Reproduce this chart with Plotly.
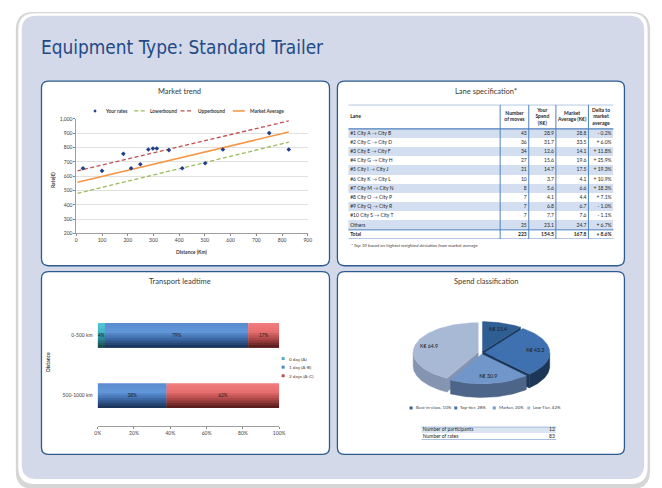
import numpy as np
import plotly.graph_objects as go

W, H = 662, 488

# ---------------- data ----------------
rate_distance_km = [26, 100, 183, 213, 249, 280, 298, 313, 360, 412, 501, 570, 750, 826]
rate_eur = [655, 637, 756, 655, 683, 786, 793, 793, 782, 655, 690, 786, 901, 786]
trend_distance_km = [5, 826]
market_average_eur = [558, 908]
upperbound_eur = [637, 986]
lowerbound_eur = [480, 837]

lane_names = ["#1 City A → City B", "#2 City C → City D", "#3 City E → City F", "#4 City G → City H",
              "#5 City I → City J", "#6 City K → City L", "#7 City M → City N", "#8 City O → City P",
              "#9 City Q → City R", "#10 City S → City T", "Others", "Total"]
lane_moves = [43, 36, 34, 27, 21, 10, 8, 7, 7, 7, 25, 223]
lane_your_spend = [28.9, 31.7, 12.6, 15.6, 14.7, 3.7, 5.6, 4.1, 6.8, 7.7, 23.1, 154.5]
lane_market_average = [28.8, 33.5, 14.1, 19.6, 17.5, 4.1, 6.6, 4.4, 6.7, 7.6, 24.7, 167.8]
lane_delta_pct = [-0.2, 6.0, 11.8, 25.9, 19.3, 10.9, 18.3, 7.1, -1.0, -1.1, 6.7, 8.6]
table_headers = ["Lane", "Number<br>of moves", "Your<br>Spend<br>(K€)", "Market<br>Average (K€)",
                 "Delta to<br>market<br>average"]

distance_bands = ["0-500 km", "500-1000 km"]
leadtime_names = ["0 day (A)", "1 day (A-B)", "2 days (A-C)"]
share_0_day = [0.04, 0.00]
share_1_day = [0.79, 0.38]
share_2_days = [0.17, 0.62]

spend_classes = ["Best-in-class", "Top-tier", "Market", "Low-Tier"]
spend_keur = [15.4, 43.3, 30.9, 64.9]

summary_labels = ["Number of participants", "Number of rates"]
summary_values = [12, 83]

# ---------------- helpers ----------------
FONT = "Lato, 'Open Sans', sans-serif"
TXT = "#3a3a3a"


def X(px):
    return px / W


def Y(py):
    return 1 - py / H


def rrect_path(x0, y0, x1, y1, r):
    a, b, c, d = X(x0 + r), Y(y0), X(x1 - r), X(x1)
    e, f, g, h = Y(y0 + r), Y(y1 - r), Y(y1), X(x0)
    return (f"M{a},{b} L{c},{b} Q{d},{b} {d},{e} L{d},{f} Q{d},{g} {c},{g} "
            f"L{a},{g} Q{h},{g} {h},{f} L{h},{e} Q{h},{b} {a},{b} Z")


shapes = []
annotations = []


def ann(text, x, y, size=5, bold=False, italic=False, color=TXT, xanchor="center", angle=0, family=FONT):
    if bold:
        text = f"<b>{text}</b>"
    if italic:
        text = f"<i>{text}</i>"
    annotations.append(dict(text=text, x=X(x), y=Y(y), xref="paper", yref="paper", showarrow=False,
                            xanchor=xanchor, yanchor="middle", textangle=angle,
                            font=dict(size=size, color=color, family=family)))


# background panels
shapes.append(dict(type="path", path=rrect_path(13, 9, 656, 492, 18), fillcolor="#d6d6d6",
                   line_width=0, layer="below", xref="paper", yref="paper"))
shapes.append(dict(type="path", path=rrect_path(15.5, 10.5, 653.5, 487, 17), fillcolor="#ffffff",
                   line_width=0, layer="below", xref="paper", yref="paper"))
shapes.append(dict(type="path", path=rrect_path(19, 13, 650, 482, 15), fillcolor="#d3d9e8",
                   line_width=0, layer="below", xref="paper", yref="paper"))
for (x0, y0, x1, y1) in [(39, 79, 331, 266), (339, 79, 630, 266), (39, 272, 331, 457), (339, 272, 630, 457)]:
    shapes.append(dict(type="path", path=rrect_path(x0, y0, x1, y1, 7), fillcolor="#ffffff",
                       line=dict(color="#2d5b8f", width=1.3), layer="below", xref="paper", yref="paper"))

ann("Equipment Type: Standard Trailer", 36, 45, size=18.9, color="#1f4a87", xanchor="left",
    family="'Liberation Sans Narrow', 'DejaVu Sans Condensed', sans-serif")

fig = go.Figure()

# ---------------- 1. Market trend (scatter) ----------------
fig.add_trace(go.Scatter(x=trend_distance_km, y=lowerbound_eur, mode="lines", name="Lowerbound",
                         line=dict(color="#9bbb59", width=1.3, dash="4px,2.5px"), xaxis="x", yaxis="y",
                         hoverinfo="skip"))
fig.add_trace(go.Scatter(x=trend_distance_km, y=upperbound_eur, mode="lines", name="Upperbound",
                         line=dict(color="#c0504d", width=1.3, dash="4px,2.5px"), xaxis="x", yaxis="y",
                         hoverinfo="skip"))
fig.add_trace(go.Scatter(x=trend_distance_km, y=market_average_eur, mode="lines", name="Market Average",
                         line=dict(color="#f79646", width=1.6), xaxis="x", yaxis="y", hoverinfo="skip"))
fig.add_trace(go.Scatter(x=rate_distance_km, y=rate_eur, mode="markers", name="Your rates",
                         marker=dict(symbol="diamond", size=3.6, color="#1f3f8a"), xaxis="x", yaxis="y"))

ann("Market trend", 179, 90, size=7.5)
ann("Rate(€)", 50, 179, size=5, bold=True, angle=-90)
ann("Distance (Km)", 192, 252, size=5, bold=True)
# legend (drawn)
shapes.append(dict(type="path", xref="paper", yref="paper",
                   path=f"M{X(93.3)},{Y(107.6)} L{X(95)},{Y(109.3)} L{X(93.3)},{Y(111)} L{X(91.6)},{Y(109.3)} Z",
                   fillcolor="#1f3f8a", line_width=0))
ann("Your rates", 101, 109.3, size=4.8, bold=True, xanchor="left")
shapes.append(dict(type="line", xref="paper", yref="paper", x0=X(133), x1=X(144), y0=Y(109.3), y1=Y(109.3),
                   line=dict(color="#9bbb59", width=1.3, dash="4px,2.5px")))
ann("Lowerbound", 147, 109.3, size=4.8, bold=True, xanchor="left")
shapes.append(dict(type="line", xref="paper", yref="paper", x0=X(180), x1=X(192), y0=Y(109.3), y1=Y(109.3),
                   line=dict(color="#c0504d", width=1.3, dash="4px,2.5px")))
ann("Upperbound", 196, 109.3, size=4.8, bold=True, xanchor="left")
shapes.append(dict(type="line", xref="paper", yref="paper", x0=X(233), x1=X(245), y0=Y(109.3), y1=Y(109.3),
                   line=dict(color="#f79646", width=1.6)))
ann("Market Average", 248, 109.3, size=4.8, bold=True, xanchor="left")

# ---------------- 2. Lane specification (table on its own axes) ----------------
col_w = [154, 29, 27.5, 33, 25.5]
edges = np.cumsum([0] + col_w)
n_rows = len(lane_names)
header_rows = 2.62
stripe = [[1 if i % 2 == 0 else 0] for i in range(n_rows)]
fig.add_trace(go.Heatmap(z=stripe, x=[edges[0], edges[-1]], y=[i - 0.5 for i in range(n_rows + 1)],
                         colorscale=[[0, "#ffffff"], [1, "#d3dff0"]], zmin=0, zmax=1, showscale=False,
                         hoverinfo="skip", xaxis="x2", yaxis="y2"))


def bold_total(values):
    return [f"<b>{v}</b>" if name == "Total" else str(v) for v, name in zip(values, lane_names)]


row_y = list(range(n_rows))
fig.add_trace(go.Scatter(x=[edges[0] + 2] * n_rows, y=row_y, mode="text", text=bold_total(lane_names),
                         textposition="middle right", textfont=dict(size=5, color="#262626", family=FONT),
                         xaxis="x2", yaxis="y2", hoverinfo="skip", showlegend=False))
num_cols = [
    [str(v) for v in lane_moves],
    [f"{v:.1f}" for v in lane_your_spend],
    [f"{v:.1f}" for v in lane_market_average],
    [f"{'+' if v >= 0 else '-'} {abs(v):.1f}%" for v in lane_delta_pct],
]
for j, col in enumerate(num_cols):
    fig.add_trace(go.Scatter(x=[edges[j + 2] - 2] * n_rows, y=row_y, mode="text", text=bold_total(col),
                             textposition="middle left", textfont=dict(size=5, color="#262626", family=FONT),
                             xaxis="x2", yaxis="y2", hoverinfo="skip", showlegend=False))
hdr_y = -0.5 - header_rows / 2
hdr_x = [edges[0] + 2] + [(edges[j] + edges[j + 1]) / 2 for j in range(1, len(col_w))]
fig.add_trace(go.Scatter(x=hdr_x, y=[hdr_y] * len(table_headers), mode="text",
                         text=[f"<b>{h}</b>" for h in table_headers],
                         textposition=["middle right"] + ["middle center"] * (len(table_headers) - 1),
                         textfont=dict(size=5, color="#262626", family=FONT),
                         xaxis="x2", yaxis="y2", hoverinfo="skip", showlegend=False))
top_y = -0.5 - header_rows
for xe in edges[1:-1]:
    shapes.append(dict(type="line", xref="x2", yref="y2", x0=xe, x1=xe, y0=top_y, y1=n_rows - 0.5,
                       line=dict(color="#4f81bd", width=1)))
for yy, lw in [(top_y, 1), (-0.5, 1.3), (n_rows - 1.5, 1), (n_rows - 0.5, 1)]:
    shapes.append(dict(type="line", xref="x2", yref="y2", x0=edges[0], x1=edges[-1], y0=yy, y1=yy,
                       line=dict(color="#4f81bd", width=lw)))
ann("Lane specification*", 490, 90, size=7.5)
ann("* Top 10 based on highest weighted deviation from market average", 351, 245, size=4.6, italic=True,
    xanchor="left")

# ---------------- 3. Transport leadtime (stacked bars with gradient bands) ----------------
bar_colors = {
    "0 day (A)": [(0, "#52c6d6"), (0.35, "#46b6c7"), (0.65, "#2d8492"), (1.0, "#173f47")],
    "1 day (A-B)": [(0, "#5a8bce"), (0.35, "#6197d9"), (0.65, "#3d68a6"), (1.0, "#172e50")],
    "2 days (A-C)": [(0, "#f27e7e"), (0.35, "#e76e6e"), (0.65, "#ad4747"), (1.0, "#4d1616")],
}
legend_color = {"0 day (A)": "#4bacc6", "1 day (A-B)": "#4f81bd", "2 days (A-C)": "#c0504d"}


def hex2rgb(h):
    h = h.lstrip("#")
    return [int(h[i:i + 2], 16) for i in (0, 2, 4)]


def grad(stops, t):
    for (t0, c0), (t1, c1) in zip(stops[:-1], stops[1:]):
        if t <= t1:
            f = (t - t0) / (t1 - t0)
            a, b = hex2rgb(c0), hex2rgb(c1)
            return "rgb({},{},{})".format(*[round(a[k] + (b[k] - a[k]) * f) for k in range(3)])
    return stops[-1][1]


series = [("0 day (A)", share_0_day), ("1 day (A-B)", share_1_day), ("2 days (A-C)", share_2_days)]
bar_w = 25 / 61
n_bands = 10
band_w = bar_w / n_bands
base = [0.0] * len(distance_bands)
label_x, label_y, label_t = [], [], []
for name, vals in series:
    for b in range(n_bands):
        fig.add_trace(go.Bar(orientation="h", y=distance_bands, x=vals, base=list(base),
                             width=band_w * (2 if b < n_bands - 1 else 1), offset=-bar_w / 2 + b * band_w,
                             marker=dict(color=grad(bar_colors[name], (b + 0.5) / n_bands), line_width=0),
                             name=name, showlegend=False, hoverinfo="skip", xaxis="x3", yaxis="y3"))
    for i, v in enumerate(vals):
        if v > 0:
            label_x.append(base[i] + v / 2)
            label_y.append(distance_bands[i])
            label_t.append(f"{v:.0%}")
    base = [base[i] + vals[i] for i in range(len(vals))]
fig.add_trace(go.Scatter(x=label_x, y=label_y, mode="text", text=label_t,
                         textfont=dict(size=4.8, color="#1a1a1a", family=FONT),
                         xaxis="x3", yaxis="y3", hoverinfo="skip", showlegend=False))
ann("Transport leadtime", 179, 282, size=7.5)
ann("Distance", 45, 363, size=5, bold=True, angle=-90)
for k, name in enumerate(leadtime_names):
    yy = 360 + k * 8.7
    shapes.append(dict(type="rect", xref="paper", yref="paper", x0=X(282.5), x1=X(285.5), y0=Y(yy + 1.5),
                       y1=Y(yy - 1.5), fillcolor=legend_color[name], line_width=0))
    ann(name, 287.5, yy, size=4.6, xanchor="left")

# ---------------- 4. Spend classification (3D-style pie) ----------------
cx, cy = 85.0, 56.0
rx, ry, depth, explode = 66.0, 30.0, 14.0, 0.05
top_cols = ["#2f5e93", "#3f70b0", "#7196c9", "#a8b9d6"]
wall_cols = ["#1c3a5e", "#1b3656", "#4d6588", "#8494b1"]
total = sum(spend_keur)
cum = np.cumsum([0] + [v / total * 360 for v in spend_keur])
slices = []
for k in range(len(spend_keur)):
    a0, a1 = cum[k], cum[k + 1]
    m = np.radians((a0 + a1) / 2)
    slices.append((np.cos(m), k, a0, a1, m))
slices.sort(key=lambda s: -s[0])


def arc(a0, a1, sx, sy, dz=0.0, n=60):
    t = np.radians(np.linspace(a0, a1, n))
    return list(cx + sx + rx * np.sin(t)), list(cy + sy + ry * np.cos(t) - dz)


def poly(xs, ys, color):
    fig.add_trace(go.Scatter(x=xs + [xs[0]], y=ys + [ys[0]], mode="lines", fill="toself", fillcolor=color,
                             line=dict(color=color, width=0.4), xaxis="x4", yaxis="y4",
                             hoverinfo="skip", showlegend=False))


lab_x, lab_y, lab_t = [], [], []
for _, k, a0, a1, m in slices:
    sx, sy = explode * rx * np.sin(m), explode * ry * np.cos(m)
    ccx, ccy = cx + sx, cy + sy
    # radial cut faces
    for ang, vis in [(a0, np.sin(np.radians(a0)) < -1e-6), (a1, np.sin(np.radians(a1)) > 1e-6)]:
        if vis:
            t = np.radians(ang)
            px_, py_ = ccx + rx * np.sin(t), ccy + ry * np.cos(t)
            poly([ccx, px_, px_, ccx], [ccy, py_, py_ - depth, ccy - depth], wall_cols[k])
    # outer front wall
    lo, hi = max(a0, 90), min(a1, 270)
    if lo < hi:
        tx, ty = arc(lo, hi, sx, sy)
        bx, by = arc(hi, lo, sx, sy, dz=depth)
        poly(tx + bx, ty + by, wall_cols[k])
    # top face
    tx, ty = arc(a0, a1, sx, sy)
    poly([ccx] + tx, [ccy] + ty, top_cols[k])
    lab_x.append(ccx + 0.78 * rx * np.sin(m))
    lab_y.append(ccy + 0.78 * ry * np.cos(m))
    lab_t.append(f"K€ {spend_keur[k]:.1f}")
fig.add_trace(go.Scatter(x=lab_x, y=lab_y, mode="text", text=lab_t,
                         textfont=dict(size=5.2, color="#1a1a1a", family=FONT),
                         xaxis="x4", yaxis="y4", hoverinfo="skip", showlegend=False))
ann("Spend classification", 490, 282, size=7.5)
leg_x = [413.7, 459, 498, 533]
for k, name in enumerate(spend_classes):
    shapes.append(dict(type="rect", xref="paper", yref="paper", x0=X(leg_x[k] - 1.5), x1=X(leg_x[k] + 1.5),
                       y0=Y(411.5), y1=Y(408.5), fillcolor=top_cols[k], line_width=0))
    ann(f"{name}, {spend_keur[k] / total:.0%}", leg_x[k] + 2.5, 410, size=4.4, xanchor="left")

# summary mini table
fig.add_trace(go.Heatmap(z=[[1], [0]], x=[0, 137], y=[-0.5, 0.5, 1.5],
                         colorscale=[[0, "#ffffff"], [1, "#dbe5f1"]], zmin=0, zmax=1, showscale=False,
                         hoverinfo="skip", xaxis="x5", yaxis="y5"))
fig.add_trace(go.Scatter(x=[1.5] * 2, y=[0, 1], mode="text", text=summary_labels, textposition="middle right",
                         textfont=dict(size=5, color="#262626", family=FONT), xaxis="x5", yaxis="y5",
                         hoverinfo="skip", showlegend=False))
fig.add_trace(go.Scatter(x=[135.5] * 2, y=[0, 1], mode="text", text=[str(v) for v in summary_values],
                         textposition="middle left", textfont=dict(size=5, color="#262626", family=FONT),
                         xaxis="x5", yaxis="y5", hoverinfo="skip", showlegend=False))
for yy in [-0.5, 1.5]:
    shapes.append(dict(type="line", xref="x5", yref="y5", x0=0, x1=137, y0=yy, y1=yy,
                       line=dict(color="#4f81bd", width=1.2)))

# ---------------- layout ----------------
hidden = dict(visible=False, fixedrange=True)
tickf = dict(size=5, color="#404040", family=FONT)
fig.update_layout(
    width=W, height=H, margin=dict(l=0, r=0, t=0, b=0),
    paper_bgcolor="#ffffff", plot_bgcolor="rgba(0,0,0,0)",
    showlegend=False, hovermode=False, barmode="overlay",
    font=dict(family=FONT, color=TXT),
    xaxis=dict(domain=[X(74.3), X(309)], range=[0, 900], dtick=100, tick0=0, anchor="y",
               showgrid=False, zeroline=False, showline=True, linecolor="#868686", linewidth=0.8,
               ticks="outside", ticklen=2, tickcolor="#868686", tickfont=tickf, fixedrange=True),
    yaxis=dict(domain=[Y(233.3), Y(117.3)], range=[200, 1000], dtick=100, tickformat=",", anchor="x",
               showgrid=True, gridcolor="#d9d9d9", gridwidth=0.8, zeroline=False, showline=True,
               linecolor="#868686", linewidth=0.8, ticks="outside", ticklen=2, tickcolor="#868686",
               tickfont=tickf, fixedrange=True),
    xaxis2=dict(domain=[X(350), X(619)], range=[edges[0], edges[-1]], anchor="y2", **hidden),
    yaxis2=dict(domain=[Y(239), Y(103)], range=[n_rows - 0.5, -0.5 - header_rows], anchor="x2", **hidden),
    xaxis3=dict(domain=[X(96), X(280)], range=[0, 1], tickvals=[0, 0.2, 0.4, 0.6, 0.8, 1.0],
                tickformat=".0%", anchor="y3", showgrid=False, zeroline=False, showline=True,
                linecolor="#868686", linewidth=0.8, ticks="outside", ticklen=2, tickcolor="#868686",
                tickfont=tickf, fixedrange=True),
    yaxis3=dict(domain=[Y(428), Y(306)], type="category", categoryorder="array", categoryarray=distance_bands,
                range=[1.5, -0.5], anchor="x3", showgrid=False, zeroline=False, showline=False, ticks="",
                ticklabelstandoff=4, tickfont=tickf, fixedrange=True),
    xaxis4=dict(domain=[X(400), X(580)], range=[0, 180], anchor="y4", **hidden),
    yaxis4=dict(domain=[Y(410), Y(300)], range=[0, 110], anchor="x4", **hidden),
    xaxis5=dict(domain=[X(424), X(561)], range=[0, 137], anchor="y5", **hidden),
    yaxis5=dict(domain=[Y(442), Y(429)], range=[1.5, -0.5], anchor="x5", **hidden),
    shapes=shapes, annotations=annotations,
)

fig.write_html("out.html", config={"displayModeBar": False, "staticPlot": True},
               post_script="document.body.style.margin='0';document.body.style.overflow='hidden';")
